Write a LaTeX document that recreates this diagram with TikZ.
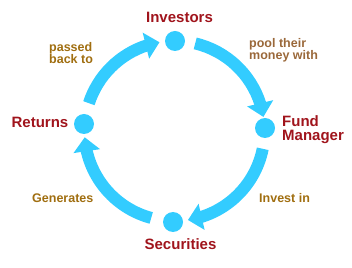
\documentclass[tikz,border=0pt]{standalone}
\usepackage{fontspec}
\setmainfont{Liberation Sans}
\usetikzlibrary{arrows.meta,bending,calc}
\definecolor{flow}{RGB}{51,204,255}
\definecolor{namered}{RGB}{160,20,28}
\definecolor{labgold}{RGB}{160,110,16}
\definecolor{labbrown}{RGB}{154,104,58}
\tikzset{
  dot/.style={circle,fill=flow,minimum size=20pt,inner sep=0pt},
  stagename/.style={text=namered,font=\fontsize{15}{14}\selectfont\bfseries,inner sep=0pt},
  lab/.style={text=labgold,font=\fontsize{12.5}{11.5}\selectfont\bfseries,inner sep=0pt,align=left},
  flowarrow/.style={draw=flow,line width=12pt,-{Triangle[length=14pt,width=26pt,flex]}}
}
\begin{document}
\begin{tikzpicture}[x=1pt,y=1pt]
\useasboundingbox (0,0) rectangle (352,267);
\coordinate (C) at (174.5,136);
% dots
\node[dot] (inv) at (175,226) {};
\node[dot] (fm) at (265,139) {};
\node[dot] (sec) at (173,45) {};
\node[dot] (ret) at (84,143) {};
% arcs
\draw[flowarrow] ($(C)+(162:90)$) arc[start angle=162,end angle=99.6,radius=90];
\draw[flowarrow] ($(C)+(76.7:90)$) arc[start angle=76.7,end angle=9,radius=90];
\draw[flowarrow] ($(C)+(-11.4:90)$) arc[start angle=-11.4,end angle=-81.4,radius=90];
\draw[flowarrow] ($(C)+(-105:90)$) arc[start angle=-105,end angle=-176,radius=90];
% names
\node[stagename,anchor=base] (tinv) at (179.5,244) {Investors};
\node[stagename,anchor=base] (tret) at (40,139) {Returns};
\node[stagename,anchor=north west,align=left] (tfm) at (282,152) {Fund\\Manager};
\node[stagename,anchor=base] (tsec) at (180.5,18) {Securities};
% labels
\node[lab,anchor=north west] (l1) at (49,225) {passed\\back to};
\node[lab,anchor=north west,text=labbrown] (l2) at (249,229) {pool their\\money with};
\node[lab,anchor=base west] (l3) at (32,64) {Generates};
\node[lab,anchor=base west] (l4) at (259,64) {Invest in};
\end{tikzpicture}
\end{document}
